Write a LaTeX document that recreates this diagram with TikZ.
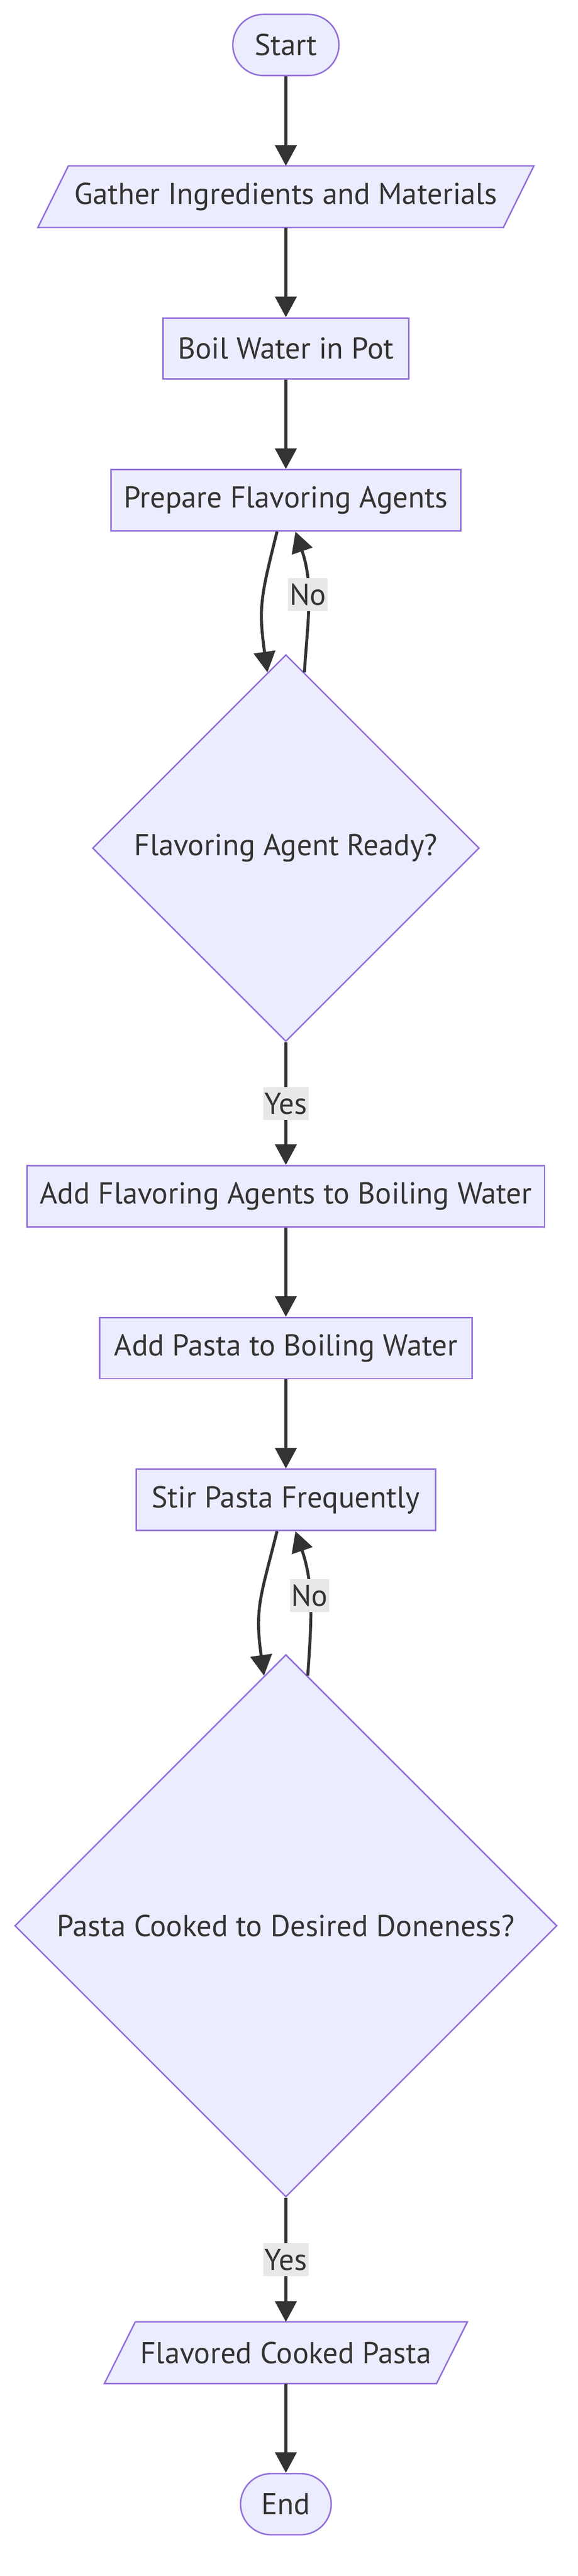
\documentclass[tikz,border=0pt]{standalone}
\usepackage{fontspec}
\setmainfont{PT Sans}
\usepackage{tikz}
\usetikzlibrary{arrows.meta}
\usetikzlibrary{calc}
\usetikzlibrary{positioning}
\usetikzlibrary{shapes.geometric}

\definecolor{nodefill}{HTML}{ECECFF}
\definecolor{nodeline}{HTML}{9370DB}
\definecolor{edgeline}{HTML}{333333}
\definecolor{labelfill}{HTML}{E8E8E8}

\pgfdeclarelayer{background}
\pgfsetlayers{background,main}

\begin{document}
\begin{tikzpicture}[->,>={Triangle[length=14pt,width=14.5pt]},color=edgeline,
    font=\fontsize{20.5pt}{24pt}\selectfont,
    main node/.style={rectangle,draw=nodeline,fill=nodefill,line width=1pt,minimum height=41.5pt,inner sep=0pt},
    term node/.style={main node,rounded corners=20.75pt},
    io node/.style={rectangle,minimum height=41.5pt,inner sep=0pt},
    decision node/.style={diamond,aspect=1,draw=nodeline,fill=nodefill,line width=1pt,inner sep=0pt}]

    \useasboundingbox (0,0) rectangle (392pt,-1748pt);

    \node[term node,minimum width=72pt] (start) at (194pt,-30.5pt) {Start};
    \node[io node,minimum width=315.5pt,on grid,below=103pt of start] (gather) {Gather Ingredients and Materials};
    \node[main node,minimum width=167pt,on grid,below=103pt of gather] (boil) {Boil Water in Pot};
    \node[main node,minimum width=237.5pt,on grid,below=103pt of boil] (prepare) {Prepare Flavoring Agents};
    \node[decision node,minimum size=262.5pt,on grid,below=236pt of prepare] (ready) {Flavoring Agent Ready?};
    \node[main node,minimum width=351pt,on grid,below=236.25pt of ready] (add-flavor) {Add Flavoring Agents to Boiling Water};
    \node[main node,minimum width=253pt,on grid,below=103pt of add-flavor] (add-pasta) {Add Pasta to Boiling Water};
    \node[main node,minimum width=203.25pt,on grid,below=103pt of add-pasta] (stir) {Stir Pasta Frequently};
    \node[decision node,minimum size=368pt,on grid,below=289pt of stir] (done) {Pasta Cooked to Desired Doneness?};
    \node[io node,minimum width=225pt,on grid,below=289.75pt of done] (pasta) {Flavored Cooked Pasta};
    \node[term node,minimum width=61.5pt,on grid,below=102.75pt of pasta] (end) {End};

    % slanted boxes behind the io nodes
    \begin{pgfonlayer}{background}
    \foreach \n/\s in {gather/10.375pt,pasta/10.5pt}
        \draw[-,draw=nodeline,fill=nodefill,line width=1pt]
        ($ (\n.south west) + (-\s,0) $) -- ($ (\n.north west) + (\s,0) $)
        -- ($ (\n.north east) + (\s,0) $) -- ($ (\n.south east) + (-\s,0) $) -- cycle;
    \end{pgfonlayer}

    \path[line width=2pt,every node/.style={fill=labelfill,inner xsep=1pt,inner ysep=0pt,minimum height=22.5pt}]
        (start) edge[] (gather)
        (gather) edge[] (boil)
        (boil) edge[] (prepare)
        ([xshift=-6pt]prepare.south) edge[out=-104,in=98,looseness=1.2] (ready.96)
        (ready.84) edge[out=86,in=-71] node[pos=0.55] {No} ([xshift=6.5pt]prepare.south)
        (ready) edge[] node[] {Yes} (add-flavor)
        (add-flavor) edge[] (add-pasta)
        (add-pasta) edge[] (stir)
        ([xshift=-6pt]stir.south) edge[out=-104,in=98,looseness=1.2] (done.95)
        (done.85) edge[out=86,in=-71] node[pos=0.55] {No} ([xshift=6.5pt]stir.south)
        (done) edge[] node[] {Yes} (pasta)
        (pasta) edge[] (end);

\end{tikzpicture}
\end{document}
